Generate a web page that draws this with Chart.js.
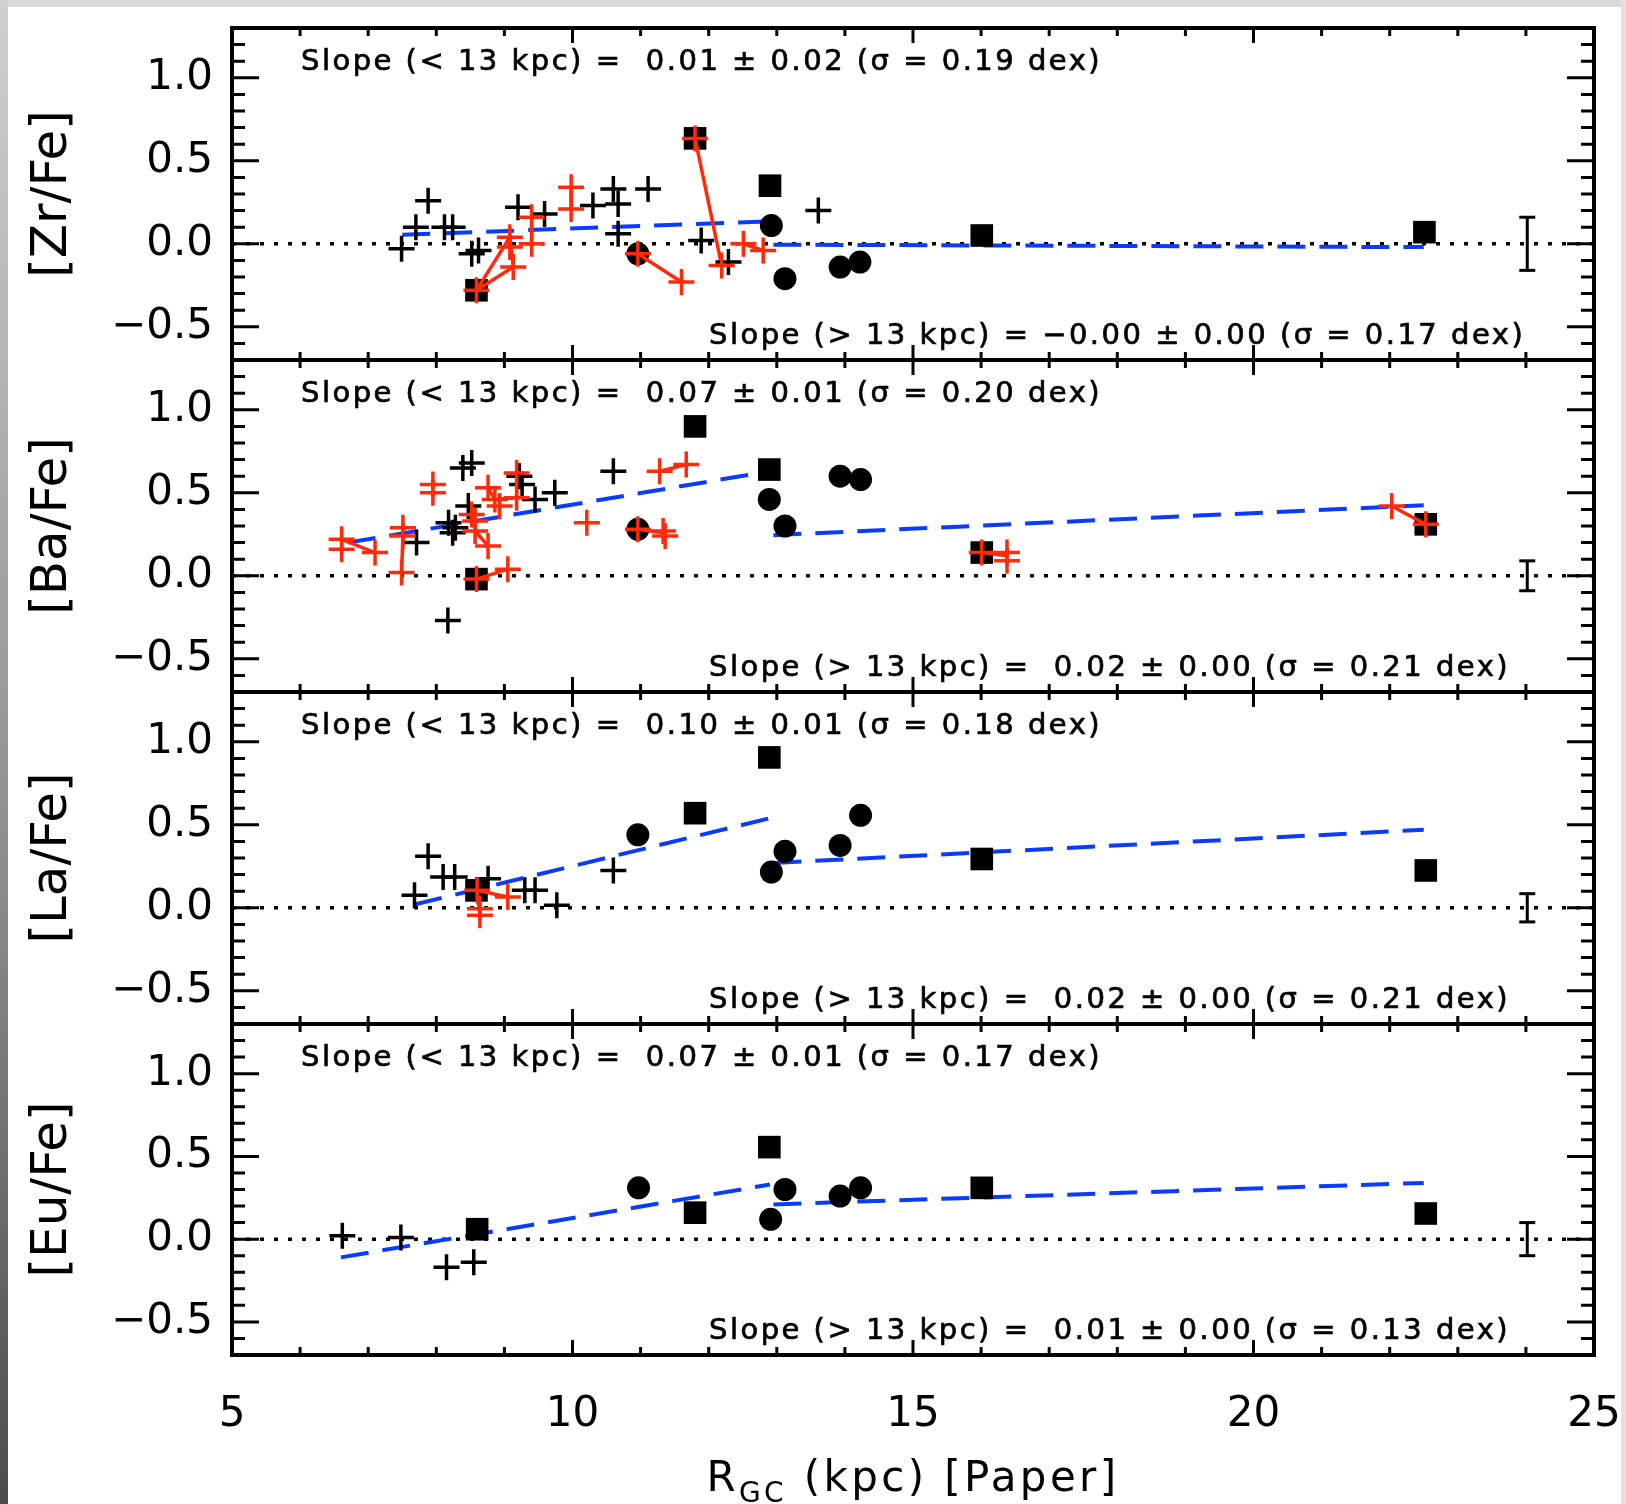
<!DOCTYPE html>
<html lang="en">
<head>
<meta charset="UTF-8">
<title>[X/Fe] vs R_GC</title>
<script src="https://cdn.jsdelivr.net/npm/chart.js"></script>
<style>
  body { margin: 0; background: #fff; }
  #page { position: relative; width: 1626px; height: 1504px; background: #fff; overflow: hidden; }
  #page canvas { position: absolute; left: 0; }
  .edge-top { position: absolute; left: 0; top: 0; width: 1626px; height: 7px; background: #d8d8d8; }
  .edge-left { position: absolute; left: 0; top: 0; width: 8px; height: 1504px; background: linear-gradient(#d0d0d0, #8a8a8a 60%, #4c4c4c); }
  .edge-right { position: absolute; right: 0; top: 0; width: 5px; height: 1504px; background: #e2e2e2; }
</style>
</head>
<body>
<div id="page">
  <div class="edge-top"></div>
  <div class="edge-left"></div>
  <div class="edge-right"></div>
  <canvas id="zr" width="1626" height="352" style="top:18px"></canvas>
  <canvas id="ba" width="1626" height="352" style="top:350px"></canvas>
  <canvas id="la" width="1626" height="352" style="top:682px"></canvas>
  <canvas id="eu" width="1626" height="490" style="top:1014px"></canvas>
</div>
<script>
// axis ticks
const xTicks = [5, 10, 15, 20, 25];
const yTicks = [-0.5, 0, 0.5, 1.0];
const errX = 24.02;

// ---- [Zr/Fe] ----
const zrPlus = [[7.49,-0.03],[7.70,0.10],[7.88,0.26],[8.12,0.10],[8.24,0.10],[8.52,-0.06],[8.62,-0.04],
  [9.20,0.22],[9.59,0.18],[10.30,0.23],[10.60,0.33],[10.67,0.24],[10.67,0.06],[11.11,0.33],[11.89,0.02],
  [12.29,-0.11],[13.61,0.20]];
const zrRedPlus = [[8.59,-0.28],[9.08,0.04],[9.08,-0.02],[9.13,-0.14],[9.40,0.16],[9.40,0.00],[9.98,0.34],
  [9.98,0.21],[10.96,-0.06],[11.60,-0.23],[11.80,0.635],[12.19,-0.13],[12.51,0.00],[12.80,-0.04]];
const zrSquares = [[8.59,-0.28],[11.80,0.635],[12.90,0.35],[16.01,0.05],[22.51,0.07]];
const zrCircles = [[10.96,-0.06],[12.92,0.11],[13.12,-0.21],[13.93,-0.14],[14.22,-0.11]];
const zrLinks = [[[8.59,-0.28],[9.08,0.04]],[[8.59,-0.28],[9.13,-0.14]],[[9.08,0.04],[9.13,-0.14]],
  [[9.40,0.16],[9.40,0.00]],[[9.98,0.34],[9.98,0.21]],[[10.96,-0.06],[11.60,-0.23]],
  [[11.80,0.635],[12.19,-0.13]],[[12.51,0.00],[12.80,-0.04]]];
const zrFitIn = [[7.5,0.055],[12.9,0.135]];
const zrFitOut = [[12.95,-0.005],[22.5,-0.02]];
const zrErr = 0.16;
const zrSlopeIn = 'Slope (< 13 kpc) =  0.01 ± 0.02 (σ = 0.19 dex)';
const zrSlopeOut = 'Slope (> 13 kpc) = −0.00 ± 0.00 (σ = 0.17 dex)';

// ---- [Ba/Fe] ----
const baPlus = [[7.71,0.20],[8.18,0.32],[8.24,0.26],[8.28,0.29],[8.47,0.42],[8.39,0.65],[8.52,0.68],
  [8.17,-0.27],[9.22,0.60],[9.26,0.55],[9.45,0.46],[9.74,0.50],[10.60,0.63]];
const baRedPlus = [[6.61,0.22],[6.61,0.16],[7.10,0.14],[7.51,0.29],[7.51,0.24],[7.49,0.02],[7.95,0.55],
  [7.95,0.50],[8.52,0.37],[8.57,0.33],[8.57,0.27],[8.76,0.18],[8.76,0.53],[8.86,0.46],[8.93,0.42],
  [9.18,0.62],[9.18,0.47],[8.59,-0.02],[9.05,0.04],[10.21,0.32],[10.96,0.28],[11.33,0.27],[11.36,0.24],
  [11.28,0.63],[11.67,0.67],[16.01,0.14],[16.38,0.14],[16.38,0.09],[22.03,0.42],[22.53,0.31]];
const baSquares = [[8.59,-0.02],[11.80,0.90],[12.89,0.64],[16.01,0.14],[22.53,0.31]];
const baCircles = [[10.96,0.28],[12.89,0.46],[13.12,0.30],[13.93,0.60],[14.23,0.58]];
const baLinks = [[[6.61,0.22],[7.10,0.14]],[[7.51,0.24],[7.49,0.02]],[[8.57,0.27],[8.76,0.18]],
  [[8.76,0.53],[8.86,0.46]],[[8.86,0.46],[9.18,0.47]],[[9.18,0.62],[9.18,0.47]],[[8.59,-0.02],[9.05,0.04]],
  [[10.96,0.28],[11.33,0.26]],[[11.28,0.63],[11.67,0.67]],[[16.01,0.14],[16.38,0.12]],[[22.03,0.42],[22.53,0.31]]];
const baFitIn = [[6.7,0.20],[12.9,0.63]];
const baFitOut = [[12.95,0.245],[22.5,0.425]];
const baErr = 0.09;
const baSlopeIn = 'Slope (< 13 kpc) =  0.07 ± 0.01 (σ = 0.20 dex)';
const baSlopeOut = 'Slope (> 13 kpc) =  0.02 ± 0.00 (σ = 0.21 dex)';

// ---- [La/Fe] ----
const laPlus = [[7.68,0.075],[7.88,0.31],[8.10,0.185],[8.27,0.185],[8.76,0.175],[9.30,0.105],[9.45,0.105],
  [9.77,0.015],[10.60,0.225]];
const laRedPlus = [[8.60,0.105],[8.64,-0.005],[8.64,-0.045],[9.05,0.065]];
const laSquares = [[8.59,0.105],[11.80,0.57],[12.89,0.906],[16.01,0.294],[22.53,0.225]];
const laCircles = [[10.96,0.44],[12.92,0.215],[13.12,0.34],[13.93,0.376],[14.23,0.557]];
const laLinks = [[[8.60,0.105],[9.05,0.065]],[[8.60,0.105],[8.64,-0.045]]];
const laFitIn = [[7.68,0.02],[12.9,0.54]];
const laFitOut = [[12.95,0.27],[22.5,0.47]];
const laErr = 0.085;
const laSlopeIn = 'Slope (< 13 kpc) =  0.10 ± 0.01 (σ = 0.18 dex)';
const laSlopeOut = 'Slope (> 13 kpc) =  0.02 ± 0.00 (σ = 0.21 dex)';

// ---- [Eu/Fe] ----
const euPlus = [[6.62,0.02],[7.48,0.01],[8.15,-0.17],[8.55,-0.14]];
const euRedPlus = [];
const euSquares = [[8.60,0.06],[11.80,0.16],[12.89,0.556],[16.01,0.31],[22.53,0.155]];
const euCircles = [[10.97,0.31],[12.91,0.12],[13.12,0.30],[13.93,0.26],[14.23,0.31]];
const euLinks = [];
const euFitIn = [[6.6,-0.11],[12.9,0.33]];
const euFitOut = [[12.95,0.21],[22.5,0.34]];
const euErr = 0.10;
const euSlopeIn = 'Slope (< 13 kpc) =  0.07 ± 0.01 (σ = 0.17 dex)';
const euSlopeOut = 'Slope (> 13 kpc) =  0.01 ± 0.00 (σ = 0.13 dex)';

const FONT = 'DejaVu Sans';
const RED = '#ff2a0a';
const BLUE = '#0a3cff';

const pts = arr => arr.map(([x, y]) => ({ x, y }));
const fmt = v => (Math.abs(v) < 1e-9 ? 0 : v).toFixed(1).replace('-', '\u2212');

// frame, inward ticks, slope notes, x title
const framePlugin = {
  id: 'frame',
  afterDraw(chart, args, opts) {
    const { ctx, chartArea: a, scales: { x, y } } = chart;
    ctx.save();
    ctx.strokeStyle = '#000';
    ctx.lineWidth = 3;
    ctx.beginPath();
    for (let i = -7; i <= 13; i++) {
      const py = y.getPixelForValue(i / 10);
      const len = i % 5 === 0 ? 27 : 13;
      ctx.moveTo(a.left, py); ctx.lineTo(a.left + len, py);
      ctx.moveTo(a.right, py); ctx.lineTo(a.right - len, py);
    }
    for (let k = 5; k <= 25; k++) {
      const px = x.getPixelForValue(k);
      const len = k % 5 === 0 ? 15 : 8;
      ctx.moveTo(px, a.top); ctx.lineTo(px, a.top + len);
      ctx.moveTo(px, a.bottom); ctx.lineTo(px, a.bottom - len);
    }
    ctx.stroke();
    ctx.lineWidth = 4;
    ctx.strokeRect(a.left, a.top, a.right - a.left, a.bottom - a.top);

    // slope notes (slightly heavier, like the original plot font)
    ctx.fillStyle = '#000';
    ctx.textBaseline = 'alphabetic';
    ctx.textAlign = 'left';
    ctx.font = '29px "' + FONT + '"';
    ctx.letterSpacing = '0px';
    const w0 = ctx.measureText(zrSlopeIn).width;
    ctx.letterSpacing = ((801 - w0) / zrSlopeIn.length).toFixed(2) + 'px';
    ctx.lineWidth = 0.7;
    ctx.fillText(opts.inner, 301, a.top + 42);
    ctx.strokeText(opts.inner, 301, a.top + 42);
    ctx.fillText(opts.outer, 709, a.bottom - 16);
    ctx.strokeText(opts.outer, 709, a.bottom - 16);

    if (opts.xTitle) {
      const big = '42px "' + FONT + '"', small = '28px "' + FONT + '"';
      const rest = ' (kpc) [Paper]';
      ctx.letterSpacing = '0px';
      ctx.font = big; const wR = ctx.measureText('R').width; const wRest = ctx.measureText(rest).width;
      ctx.font = small; const wGC = ctx.measureText('GC').width;
      const sp = (413 - wR - wGC - wRest) / (1 + 2 + rest.length);
      let cx = (a.left + a.right) / 2 - 413 / 2;
      const base = 477;
      ctx.letterSpacing = sp.toFixed(2) + 'px';
      ctx.font = big; ctx.fillText('R', cx, base); cx += wR + sp;
      ctx.font = small; ctx.fillText('GC', cx, base + 11); cx += wGC + 2 * sp;
      ctx.font = big; ctx.fillText(rest, cx, base);
    }
    ctx.restore();
  }
};

function makePanel(id, label, plus, redPlus, squares, circles, links, fitIn, fitOut, err, inner, outer, isBottom) {
  const datasets = [];
  datasets.push({ data: pts(redPlus), pointStyle: 'cross', pointRadius: 13, borderColor: RED, borderWidth: 3.5, order: 0 });
  datasets.push({ data: pts(plus), pointStyle: 'cross', pointRadius: 13, borderColor: '#000', borderWidth: 3.5, order: 1 });
  links.forEach(l => datasets.push({ data: pts(l), showLine: true, borderColor: RED, borderWidth: 3.5, pointRadius: 0, order: 2 }));
  datasets.push({ data: pts(circles), pointStyle: 'circle', pointRadius: 11.5, backgroundColor: '#000', borderColor: '#000', borderWidth: 0, order: 3 });
  datasets.push({ data: pts(squares), pointStyle: 'rect', pointRadius: 16, backgroundColor: '#000', borderColor: '#000', borderWidth: 0, order: 4 });
  [fitIn, fitOut].forEach(f => datasets.push({ data: pts(f), showLine: true, borderColor: BLUE, borderWidth: 4, borderDash: [28, 14], pointRadius: 0, order: 5 }));
  datasets.push({ data: [{ x: 5, y: 0 }, { x: 25, y: 0 }], showLine: true, borderColor: '#000', borderWidth: 3.5, borderDash: [4, 10], pointRadius: 0, order: 6 });
  datasets.push({ data: [{ x: errX, y: -err }, { x: errX, y: err }], showLine: true, borderColor: '#000', borderWidth: 3,
    pointStyle: 'line', pointRadius: 8, pointBorderWidth: 3, pointBorderColor: '#000', order: 6 });

  return new Chart(document.getElementById(id), {
    type: 'scatter',
    data: { datasets },
    options: {
      responsive: false,
      animation: false,
      events: [],
      layout: { autoPadding: false, padding: { top: 10, bottom: isBottom ? 0 : 10, left: 0, right: 32 } },
      scales: {
        x: {
          type: 'linear', min: 5, max: 25, display: isBottom,
          grid: { display: false, drawTicks: false },
          border: { display: false },
          afterBuildTicks: s => { s.ticks = xTicks.map(v => ({ value: v })); },
          afterFit: s => { s.height = isBottom ? 149 : 0; s.paddingLeft = 0; s.paddingRight = 0; },
          ticks: { font: { family: FONT, size: 42 }, color: '#000', padding: 35, maxRotation: 0, autoSkip: false, callback: v => String(v) }
        },
        y: {
          type: 'linear', min: -0.7, max: 1.3,
          grid: { display: false, drawTicks: false },
          border: { display: false },
          afterBuildTicks: s => { s.ticks = yTicks.map(v => ({ value: v })); },
          afterFit: s => { s.width = 232; s.paddingTop = 0; s.paddingBottom = 0; },
          ticks: { font: { family: FONT, size: 42 }, color: '#000', padding: 19, callback: v => fmt(v) },
          title: { display: true, text: label, color: '#000', font: { family: FONT, size: 50 }, padding: { top: 23, bottom: 0 } }
        }
      },
      plugins: {
        legend: { display: false },
        tooltip: { enabled: false },
        frame: { inner, outer, xTitle: isBottom }
      }
    },
    plugins: [framePlugin]
  });
}

makePanel('zr', '[Zr/Fe]', zrPlus, zrRedPlus, zrSquares, zrCircles, zrLinks, zrFitIn, zrFitOut, zrErr, zrSlopeIn, zrSlopeOut, false);
makePanel('ba', '[Ba/Fe]', baPlus, baRedPlus, baSquares, baCircles, baLinks, baFitIn, baFitOut, baErr, baSlopeIn, baSlopeOut, false);
makePanel('la', '[La/Fe]', laPlus, laRedPlus, laSquares, laCircles, laLinks, laFitIn, laFitOut, laErr, laSlopeIn, laSlopeOut, false);
makePanel('eu', '[Eu/Fe]', euPlus, euRedPlus, euSquares, euCircles, euLinks, euFitIn, euFitOut, euErr, euSlopeIn, euSlopeOut, true);
</script>
</body>
</html>
